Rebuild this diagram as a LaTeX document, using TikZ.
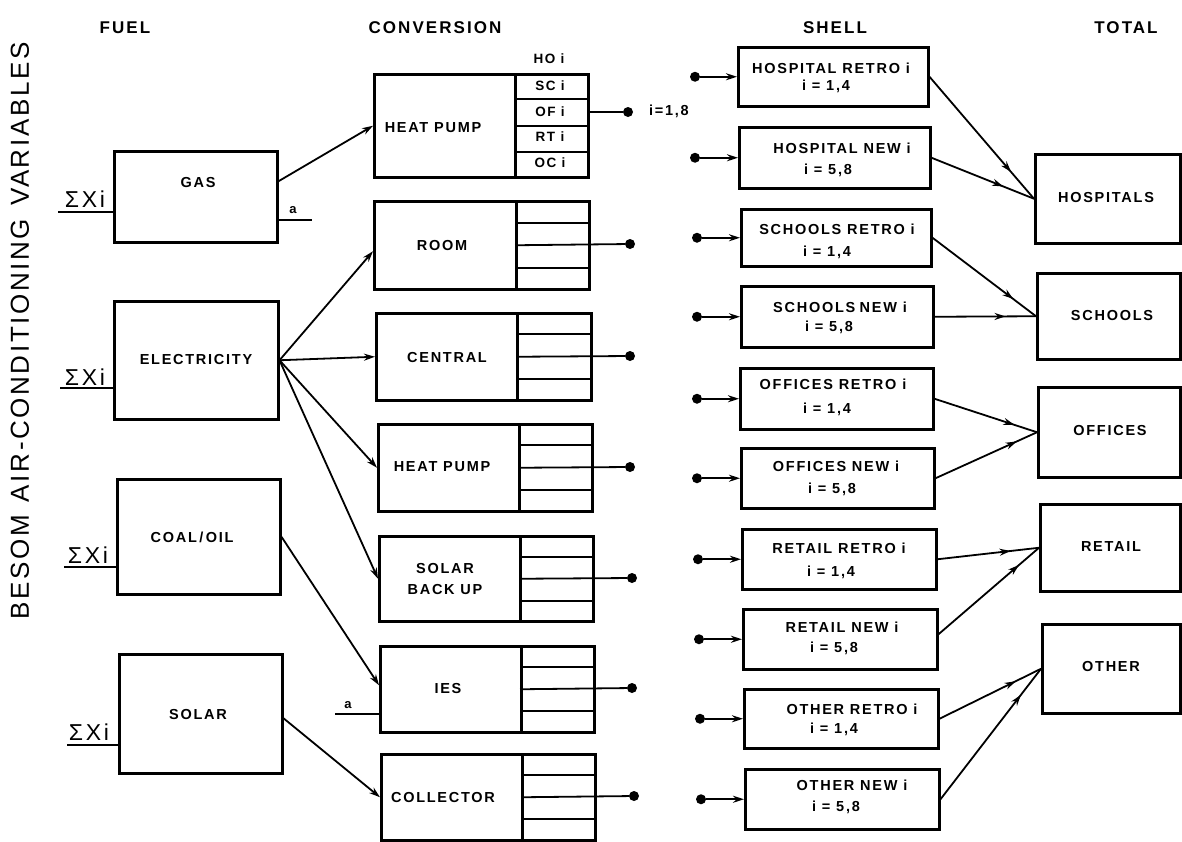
\documentclass[tikz,border=0pt]{standalone}
\usepackage{fontspec}
\setmainfont{Liberation Sans}
\newfontfamily\lf[LetterSpace=12]{Liberation Sans}
\newfontfamily\vf[LetterSpace=10]{Liberation Sans}
\usetikzlibrary{arrows.meta,calc,decorations.markings}
\begin{document}
\begin{tikzpicture}[x=1pt,y=-1pt,
  box/.style={draw, line width=2.5pt, inner sep=0pt, anchor=north west},
  rowline/.style={line width=1.8pt},
  conn/.style={line width=1.8pt},
  arr/.style={conn, -{Stealth[length=11pt,width=7pt]}},
  midarr/.style={conn, postaction={decorate}, decoration={markings, mark=at position #1 with {\arrow{Stealth[length=11pt,width=7pt]}}}},
  bdot/.style={circle, fill, inner sep=0pt, minimum size=10pt},
  lbl/.style={inner sep=0pt, font=\lf\bfseries\fontsize{14.5}{17}\selectfont},
  cell/.style={inner sep=0pt, font=\lf\bfseries\fontsize{13.5}{15}\selectfont},
  hdr/.style={inner sep=0pt, font=\lf\bfseries\fontsize{17}{20}\selectfont},
  sig/.style={inner sep=0pt, font=\lf\fontsize{23}{25}\selectfont},
  sm/.style={inner sep=0pt, font=\bfseries\fontsize{13}{14}\selectfont}
]
\useasboundingbox (0,0) rectangle (1182,841);

% headers
\node[hdr] (h1) at (125,28) {FUEL};
\node[hdr] (h2) at (435,28) {CONVERSION};
\node[hdr] (h3) at (835,28) {SHELL};
\node[hdr] (h4) at (1126,28) {TOTAL};
\node[rotate=90, inner sep=0pt, font=\vf\fontsize{26}{28}\selectfont] (vt) at (20,331) {BESOM\hspace{0.5em}AIR-CONDITIONING\hspace{0.5em}VARIABLES};

% fuel boxes
\node[box, minimum width=163pt, minimum height=91pt] (gas) at (113,150) {};
\node[box, minimum width=164pt, minimum height=118pt] (elec) at (113,300) {};
\node[box, minimum width=163pt, minimum height=115pt] (coal) at (116,478) {};
\node[box, minimum width=163pt, minimum height=119pt] (solar) at (118,653) {};
\node[lbl] (gast) at (198,183) {GAS};
\node[lbl] (elect) at (196,360) {ELECTRICITY};
\node[lbl] (coalt) at (192,537) {COAL\,/\,OIL};
\node[lbl] (solart) at (198,714) {SOLAR};

% fuel inputs
\coordinate (gin) at (58,212);
\coordinate (ein) at (60,388);
\coordinate (cin) at (64,567);
\coordinate (sin) at (67,745);
\draw[conn] (gin) -- (gin -| gas.west);
\draw[conn] (ein) -- (ein -| elec.west);
\draw[conn] (cin) -- (cin -| coal.west);
\draw[conn] (sin) -- (sin -| solar.west);
\node[sig] (gs) at (85,199) {ΣXi};
\node[sig] (es) at (85,377) {ΣXi};
\node[sig] (cs) at (88,555) {ΣXi};
\node[sig] (ss) at (89,732) {ΣXi};
\coordinate (ga) at (312,220);
\draw[conn] (ga -| gas.east) -- (ga);
\node[sm] (gat) at (293,210) {a};

% conversion boxes
\node[box, minimum width=141pt, minimum height=103pt] (hp1) at (373,73) {};
\node[box, minimum width=73pt, minimum height=103pt] (hp1c) at (514,73) {};
\node[box, minimum width=142pt, minimum height=88pt] (room) at (373,200) {};
\node[box, minimum width=73pt, minimum height=88pt] (roomc) at (515,200) {};
\node[box, minimum width=141pt, minimum height=87pt] (cent) at (375,312) {};
\node[box, minimum width=74pt, minimum height=87pt] (centc) at (516,312) {};
\node[box, minimum width=141pt, minimum height=87pt] (hp2) at (377,423) {};
\node[box, minimum width=73pt, minimum height=87pt] (hp2c) at (518,423) {};
\node[box, minimum width=141pt, minimum height=85pt] (sbu) at (378,535) {};
\node[box, minimum width=73pt, minimum height=85pt] (sbuc) at (519,535) {};
\node[box, minimum width=141pt, minimum height=86pt] (ies) at (379,645) {};
\node[box, minimum width=73pt, minimum height=86pt] (iesc) at (520,645) {};
\node[box, minimum width=141pt, minimum height=86pt] (coll) at (380,753) {};
\node[box, minimum width=73pt, minimum height=86pt] (collc) at (521,753) {};

\foreach \c in {hp1c,roomc,centc,hp2c,sbuc,iesc,collc}{
  \draw[rowline] ($(\c.north west)!0.25!(\c.south west)$) -- ($(\c.north east)!0.25!(\c.south east)$);
  \draw[rowline] ($(\c.north west)!0.75!(\c.south west)$) -- ($(\c.north east)!0.75!(\c.south east)$);
}
\draw[rowline] (hp1c.west) -- (hp1c.east);

\node[lbl] (hp1t) at (433,128) {HEAT PUMP};
\node[lbl] (roomt) at (442,246) {ROOM};
\node[lbl] (centt) at (447,358) {CENTRAL};
\node[lbl] (hp2t) at (442,467) {HEAT PUMP};
\node[lbl, align=center] (sbut) at (445,579) {SOLAR\\[4pt]BACK\hspace{0.4em}UP};
\node[lbl] (iest) at (448,688) {IES};
\node[lbl] (collt) at (443,797) {COLLECTOR};

\node[cell] (ho) at (549,59) {HO i};
\node[cell] (sc) at (550,86) {SC i};
\node[cell] (of) at (550,112) {OF i};
\node[cell] (rt) at (550,137) {RT i};
\node[cell] (oc) at (550,163) {OC i};

% conversion outputs
\node[bdot] (d1) at (628,112) {};
\node[bdot] (d2) at (630,244) {};
\node[bdot] (d3) at (630,356) {};
\node[bdot] (d4) at (630,467) {};
\node[bdot] (d5) at (632,578) {};
\node[bdot] (d6) at (632,688) {};
\node[bdot] (d7) at (634,796) {};
\draw[conn] (d1 -| hp1c.east) -- (d1);
\draw[conn] (roomc.west) -- (d2);
\draw[conn] (centc.west) -- (d3);
\draw[conn] (hp2c.west) -- (d4);
\draw[conn] (sbuc.west) -- (d5);
\draw[conn] (iesc.west) -- (d6);
\draw[conn] (collc.west) -- (d7);
\node[lbl] (ir) at (669,111) {i=1,8};

\coordinate (ia) at (335,714);
\draw[conn] (ia) -- (ia -| ies.west);
\node[sm] (iat) at (348,705) {a};

% fuel -> conversion
\draw[arr] ([yshift=15.5pt]gas.east) -- (hp1.west);
\draw[arr] (elec.east) -- ([yshift=-6pt]room.west);
\draw[arr] (elec.east) -- (cent.west);
\draw[arr] (elec.east) -- (hp2.west);
\draw[arr] (elec.east) -- (sbu.west);
\draw[arr] (coal.east) -- ([yshift=4pt]ies.west);
\draw[arr] ([yshift=-4.5pt]solar.east) -- (coll.west);

% shell boxes
\node[box, minimum width=190pt, minimum height=59pt] (hr) at (737,46) {};
\node[box, minimum width=191pt, minimum height=61pt] (hn) at (738,126) {};
\node[box, minimum width=190pt, minimum height=57pt] (sr) at (740,208) {};
\node[box, minimum width=192pt, minimum height=61pt] (sn) at (740,285) {};
\node[box, minimum width=193pt, minimum height=61pt] (or) at (739,367) {};
\node[box, minimum width=193pt, minimum height=60pt] (on) at (740,447) {};
\node[box, minimum width=194pt, minimum height=60pt] (rr) at (741,528) {};
\node[box, minimum width=194pt, minimum height=60pt] (rn) at (742,608) {};
\node[box, minimum width=194pt, minimum height=59pt] (tr) at (743,688) {};
\node[box, minimum width=194pt, minimum height=60pt] (tn) at (744,768) {};

\node[lbl] (hr1) at (831,68) {HOSPITAL RETRO i};
\node[lbl] (hr2) at (826,86) {i = 1,4};
\node[lbl] (hn1) at (842,148) {HOSPITAL NEW i};
\node[lbl] (hn2) at (828,170) {i = 5,8};
\node[lbl] (sr1) at (837,229) {SCHOOLS\hspace{0.4em}RETRO i};
\node[lbl] (sr2) at (827,252) {i = 1,4};
\node[lbl] (sn1) at (840,307) {SCHOOLS\hspace{0.3em}NEW i};
\node[lbl] (sn2) at (829,327) {i = 5,8};
\node[lbl] (or1) at (833,384) {OFFICES RETRO i};
\node[lbl] (or2) at (827,409) {i = 1,4};
\node[lbl] (on1) at (836,466) {OFFICES NEW i};
\node[lbl] (on2) at (832,489) {i = 5,8};
\node[lbl] (rr1) at (839,548) {RETAIL RETRO i};
\node[lbl] (rr2) at (831,572) {i = 1,4};
\node[lbl] (rn1) at (842,627) {RETAIL NEW i};
\node[lbl] (rn2) at (834,648) {i = 5,8};
\node[lbl] (tr1) at (852,709) {OTHER RETRO i};
\node[lbl] (tr2) at (834,729) {i = 1,4};
\node[lbl] (tn1) at (852,785) {OTHER NEW i};
\node[lbl] (tn2) at (836,807) {i = 5,8};

% shell inputs
\foreach \s/\x in {hr/695,hn/695,sr/697,sn/697,or/697,on/697,rr/698,rn/699,tr/700,tn/701}{
  \node[bdot] (\s d) at (\s.west -| \x,0) {};
  \draw[arr] (\s d) -- (\s.west);
}

% total boxes
\node[box, minimum width=145pt, minimum height=89pt] (hos) at (1034,153) {};
\node[box, minimum width=143pt, minimum height=86pt] (sch) at (1036,272) {};
\node[box, minimum width=142pt, minimum height=90pt] (off) at (1037,386) {};
\node[box, minimum width=140pt, minimum height=87pt] (ret) at (1039,503) {};
\node[box, minimum width=138pt, minimum height=89pt] (oth) at (1041,623) {};
\node[lbl] (host) at (1106,198) {HOSPITALS};
\node[lbl] (scht) at (1112,316) {SCHOOLS};
\node[lbl] (offt) at (1110,430) {OFFICES};
\node[lbl] (rett) at (1111,547) {RETAIL};
\node[lbl] (otht) at (1111,666) {OTHER};

% shell -> total
\draw[midarr=0.78] (hr.east) -- (hos.west);
\draw[midarr=0.7] (hn.east) -- (hos.west);
\draw[midarr=0.78] (sr.east) -- (sch.west);
\draw[midarr=0.7] (sn.east) -- (sch.west);
\draw[midarr=0.78] (or.east) -- (off.west);
\draw[midarr=0.8] (on.east) -- (off.west);
\draw[midarr=0.72] (rr.east) -- (ret.west);
\draw[midarr=0.8] ([yshift=5pt]rn.east) -- (ret.west);
\draw[midarr=0.75] (tr.east) -- (oth.west);
\draw[midarr=0.8] (tn.east) -- (oth.west);
\end{tikzpicture}
\end{document}
